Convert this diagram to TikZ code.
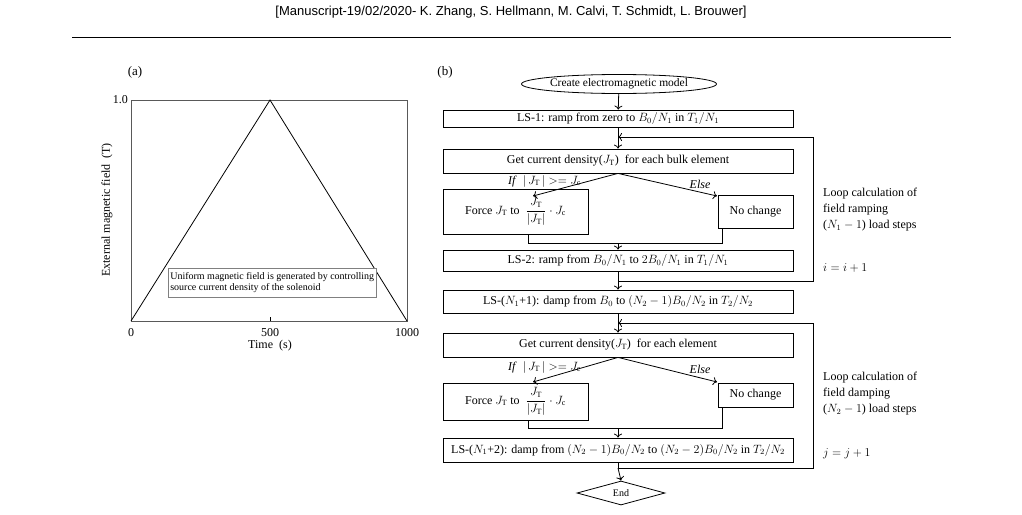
\documentclass[tikz,border=0pt]{standalone}
\usepackage{amsmath}
\usepackage{fontspec}
\setmainfont{Liberation Serif}
\newfontfamily\hdr{Liberation Sans}
\usetikzlibrary{shapes.geometric,arrows.meta}
\begin{document}
\begin{tikzpicture}[x=1pt,y=-1pt,
  box/.style={draw,line width=0.8pt,inner sep=0pt,font=\fontsize{12}{14}\selectfont},
  arr/.style={-{To[length=4pt,width=8pt]},line width=0.8pt},
  ln/.style={line width=0.8pt},
  lab/.style={font=\fontsize{12}{14}\selectfont,inner sep=1pt},
  side/.style={font=\fontsize{12}{16}\selectfont,align=left,anchor=west,inner sep=0pt}]
\useasboundingbox (0,0) rectangle (1022,514);
\node[font=\hdr\fontsize{13}{15}\selectfont] (hd) at (511,12) {[Manuscript-19/02/2020- K. Zhang, S. Hellmann, M. Calvi, T. Schmidt, L. Brouwer]};
\draw[line width=0.8pt] (72,37) -- (951,37);
% panel a
\node[lab,font=\fontsize{13}{15}\selectfont] (pa) at (135,72) {(a)};
\draw[line width=0.7pt,gray!70!black] (131,100) rectangle (407,321);
\coordinate (o) at (131,321); \coordinate (pk) at (270,100); \coordinate (e) at (407,321);
\draw[line width=0.8pt] (o) -- (pk) -- (e);
\draw[line width=0.6pt] (270,321) -- (270,317);
\node[lab,anchor=east] (y1) at (129,100) {1.0};
\node[lab] (x0) at (131,333) {0};
\node[lab] (x5) at (270,333) {500};
\node[lab] (x10) at (407,333) {1000};
\node[lab] (xl) at (270,346) {Time\ \ (s)};
\node[lab,rotate=90] (yl) at (107,210) {External magnetic field\ \ (T)};
\node[draw=gray,line width=0.6pt,fill=white,font=\fontsize{10}{11.5}\selectfont,align=left,minimum width=201pt,minimum height=29pt,inner sep=2pt,anchor=north west] (ub) at (168,268) {Uniform magnetic field is generated by controlling\\source current density of the solenoid};
% panel b
\node[lab,font=\fontsize{13}{15}\selectfont] (pb) at (445,72) {(b)};
\node[box,ellipse,minimum width=195pt,minimum height=19pt,inner sep=0pt,font=\fontsize{11.5}{13}\selectfont] (s) at (619,84) {Create electromagnetic model};
\node[box,minimum width=350pt,minimum height=17pt] (l1) at (618,118.5) {LS-1: ramp from zero to $B_0/N_1$ in $T_1/N_1$};
\coordinate (m1) at (618,137);
\node[box,minimum width=350pt,minimum height=24pt] (g1) at (618,161) {Get current density($J_{\mathrm T}$)\ \ for each bulk element};
\node[box,minimum width=145pt,minimum height=45pt] (f1) at (515.5,211.5) {Force $J_{\mathrm T}$ to\ \ $\dfrac{J_{\mathrm T}}{|J_{\mathrm T}|}\cdot J_{\mathrm c}$};
\node[box,minimum width=75pt,minimum height=33pt] (n1) at (755.5,211.5) {No change};
\coordinate (c1) at (618,243);
\node[box,minimum width=350pt,minimum height=21pt] (l2) at (618,260.5) {LS-2: ramp from $B_0/N_1$ to $2B_0/N_1$ in $T_1/N_1$};
\coordinate (r1) at (618,281);
\node[box,minimum width=350pt,minimum height=23pt] (l3) at (618,301.5) {LS-($N_1$+1): damp from $B_0$ to $(N_2-1)B_0/N_2$ in $T_2/N_2$};
\coordinate (m2) at (618,323);
\node[box,minimum width=350pt,minimum height=24pt] (g2) at (618,345) {Get current density($J_{\mathrm T}$)\ \ for each element};
\node[box,minimum width=145pt,minimum height=37pt] (f2) at (515.5,401.5) {Force $J_{\mathrm T}$ to\ \ $\dfrac{J_{\mathrm T}}{|J_{\mathrm T}|}\cdot J_{\mathrm c}$};
\node[box,minimum width=75pt,minimum height=24pt] (n2) at (755.5,395) {No change};
\coordinate (c2) at (618,428);
\node[box,minimum width=350pt,minimum height=24pt] (l4) at (618,450) {LS-($N_1$+2): damp from $(N_2-1)B_0/N_2$ to $(N_2-2)B_0/N_2$ in $T_2/N_2$};
\coordinate (r2) at (618,468);
\node[box,diamond,aspect=3.8,minimum width=88pt,minimum height=24pt,font=\fontsize{10}{12}\selectfont] (end) at (621,493) {End};
% connectors
\draw[arr] (s) -- (l1);
\draw[arr] (l1) -- (g1);
\coordinate (tl1) at (533,196); \coordinate (tr1) at (717,196);
\draw[arr] (g1.south) -- (tl1);
\node[lab,anchor=east] (if1) at (582,181) {\textit{If}\ \ $|\,J_{\mathrm T}\,|>= J_{\mathrm c}$};
\draw[arr] (g1.south) -- (tr1);
\node[lab] (el1) at (700,184) {\textit{Else}};
\draw[ln] (528,234) -- (528,243) -- (722,243) -- (722,228);
\draw[arr] (c1) -- (l2);
\draw[ln] (l2) -- (r1) -- (813,281) -- (813,137);
\draw[arr] (813,137) -- (m1);
\draw[arr] (r1) -- (l3);
\draw[arr] (l3) -- (g2);
\coordinate (tl2) at (533,382); \coordinate (tr2) at (717,382);
\draw[arr] (g2.south) -- (tl2);
\node[lab,anchor=east] (if2) at (582,367) {\textit{If}\ \ $|\,J_{\mathrm T}\,|>= J_{\mathrm c}$};
\draw[arr] (g2.south) -- (tr2);
\node[lab] (el2) at (700,369) {\textit{Else}};
\draw[ln] (528,420) -- (528,428) -- (722,428) -- (722,407);
\draw[arr] (c2) -- (l4);
\draw[ln] (618,462) -- (r2) -- (813,468) -- (813,323);
\draw[arr] (813,323) -- (m2);
\draw[arr] (r2) -- (end.north);
\node[side] (t1) at (823,210) {Loop calculation of\\field ramping\\($N_1-1$) load steps};
\node[side] (i1) at (823,268) {$i=i+1$};
\node[side] (t2) at (823,394) {Loop calculation of\\field damping\\($N_2-1$) load steps};
\node[side] (j1) at (823,454) {$j=j+1$};
\end{tikzpicture}
\end{document}
